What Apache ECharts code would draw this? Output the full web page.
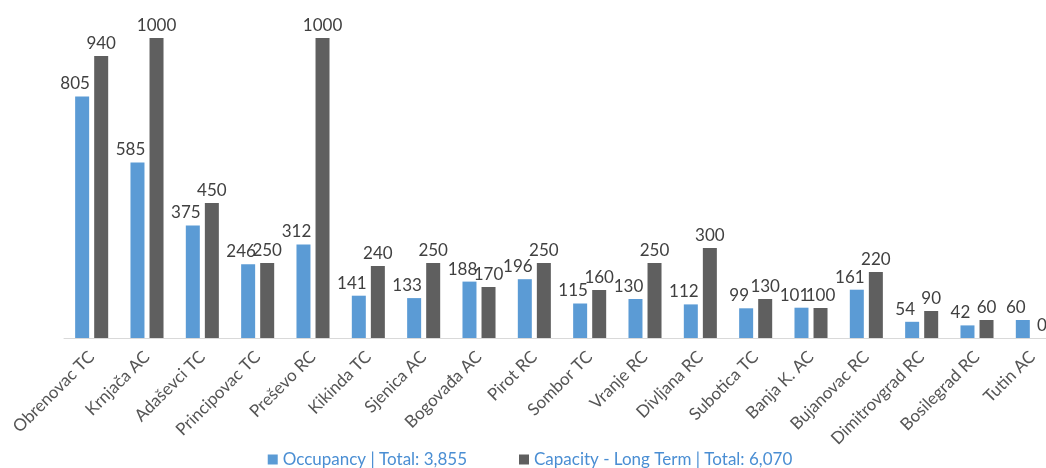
<!DOCTYPE html>
<html><head><meta charset="utf-8">
<script src="https://cdn.jsdelivr.net/npm/echarts@6/dist/echarts.min.js"></script>
<style>html,body{margin:0;padding:0;background:#fff;overflow:hidden}#c{width:1060px;height:468px}</style>
</head><body><div id="c"></div>
<script>
const categories = ["Obrenovac TC","Krnjača AC","Adaševci TC","Principovac TC","Preševo RC","Kikinda TC","Sjenica AC","Bogovađa AC","Pirot RC","Sombor TC","Vranje RC","Divljana RC","Subotica TC","Banja K. AC","Bujanovac RC","Dimitrovgrad RC","Bosilegrad RC","Tutin AC"];
const occupancy = [805,585,375,246,312,141,133,188,196,115,130,112,99,101,161,54,42,60];
const capacity = [940,1000,450,250,1000,240,250,170,250,160,250,300,130,100,220,90,60,0];
const legendNames = ["Occupancy | Total: 3,855","Capacity - Long Term | Total: 6,070"];
const FONT = "Lato, 'Open Sans', sans-serif";
const chart = echarts.init(document.getElementById('c'));
const lbl = {show:true, position:'top', distance:4, color:'#404040', fontSize:17, fontFamily:FONT};
chart.setOption({
  animation:false,
  grid:{left:64, right:0, top:38, height:300, containLabel:false},
  legend:{bottom:-5, left:'center', itemGap:52, itemWidth:10, itemHeight:10, icon:'rect',
    textStyle:{color:'#4a8ed3', fontSize:17, fontFamily:FONT}, data:legendNames},
  xAxis:{type:'category', data:categories,
    axisLine:{lineStyle:{color:'#d9d9d9'}}, axisTick:{show:false},
    axisLabel:{rotate:45, interval:0, color:'#555555', fontSize:17, fontFamily:FONT, margin:16}},
  yAxis:{type:'value', min:0, max:1000, show:false, splitLine:{show:false}},
  series:[
    {name:legendNames[0], type:'bar', data:occupancy, barWidth:14, barGap:'36%',
     itemStyle:{color:'#5b9bd5'}, label:Object.assign({}, lbl, {offset:[-7,0]})},
    {name:legendNames[1], type:'bar', data:capacity, barWidth:14,
     itemStyle:{color:'#5f5f5f'}, label:lbl}
  ]
});
</script></body></html>
